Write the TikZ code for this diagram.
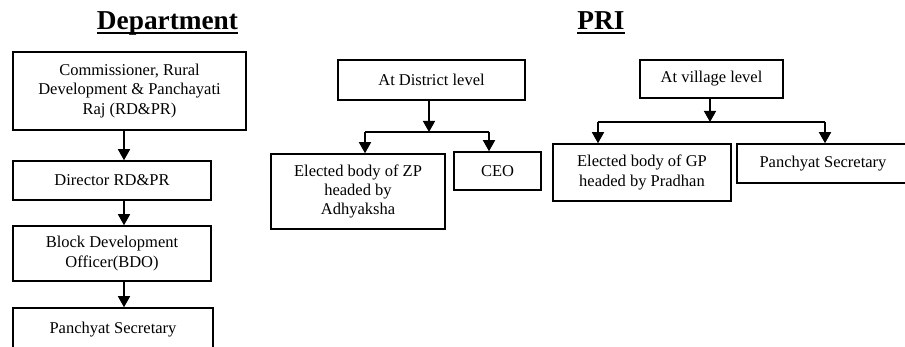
\documentclass[tikz,border=0pt]{standalone}
\usepackage{fontspec}
\setmainfont{Liberation Serif}
\usetikzlibrary{arrows.meta}

\begin{document}
\begin{tikzpicture}[
    x=1pt, y=-1pt,
    btype/.style={rectangle, draw, line width=1.5pt, align=center, inner sep=2pt, font=\fontsize{16.5}{19.3}\selectfont},
    ttype/.style={font=\fontsize{27.3}{30}\selectfont\bfseries, inner sep=0pt, anchor=base},
    link/.style={line width=1.5pt},
    arr/.style={link, -{Triangle[width=12pt, length=11pt]}}
]
    \clip (0,0) rectangle (905,347);
    % titles
    \node[ttype] (dept) at (167.5, 30) {Department};
    \node[ttype] (pri)  at (601, 30) {PRI};
    \draw[line width=2pt] ([yshift=-3.5pt]dept.base west) -- ([yshift=-3.5pt]dept.base east);
    \draw[line width=2pt] ([yshift=-3.5pt]pri.base west) -- ([yshift=-3.5pt]pri.base east);

    % department chain
    \node[btype, minimum width=233pt, minimum height=78pt] (comm) at (129.5, 91) {Commissioner, Rural\\Development \& Panchayati\\Raj (RD\&PR)};
    \node[btype, minimum width=198pt, minimum height=39pt] (dir)  at (112, 180.5) {Director RD\&PR};
    \node[btype, minimum width=198pt, minimum height=55pt] (bdo)  at (112, 253.5) {Block Development\\Officer(BDO)};
    \node[btype, minimum width=200pt, minimum height=44pt] (psec) at (113, 330) {Panchyat Secretary};
    \coordinate (spine) at (124, 0);
    \draw[arr] (comm.south -| spine) -- (dir.north -| spine);
    \draw[arr] (dir.south -| spine) -- (bdo.north -| spine);
    \draw[arr] (bdo.south -| spine) -- (psec.north -| spine);

    % district level
    \node[btype, minimum width=187pt, minimum height=40pt] (dist) at (431.5, 80) {At District level};
    \node[btype, minimum width=174pt, minimum height=75pt] (zp)   at (358, 191.5) {Elected body of ZP\\headed by\\Adhyaksha};
    \node[btype, minimum width=87pt,  minimum height=38pt] (ceo)  at (497.5, 171) {CEO};
    \coordinate (dj) at (429, 132);
    \coordinate (dl) at (365, 132);
    \coordinate (dr) at (489, 132);
    \draw[arr] (dist.south -| dj) -- (dj);
    \draw[link] (dl) -- (dr);
    \draw[arr] (dl) -- (zp.north -| dl);
    \draw[arr] (dr) -- (ceo.north -| dr);

    % village level
    \node[btype, minimum width=143pt, minimum height=38pt] (vill) at (711.5, 79) {At village level};
    \node[btype, minimum width=178pt, minimum height=57pt] (gp)   at (642, 172.5) {Elected body of GP\\headed by Pradhan};
    \node[btype, minimum width=172pt, minimum height=39pt] (vsec) at (823, 163.5) {Panchyat Secretary};
    \coordinate (vj) at (710, 122);
    \coordinate (vl) at (598, 122);
    \coordinate (vr) at (825, 122);
    \draw[arr] (vill.south -| vj) -- (vj);
    \draw[link] (vl) -- (vr);
    \draw[arr] (vl) -- (gp.north -| vl);
    \draw[arr] (vr) -- (vsec.north -| vr);
\end{tikzpicture}
\end{document}
